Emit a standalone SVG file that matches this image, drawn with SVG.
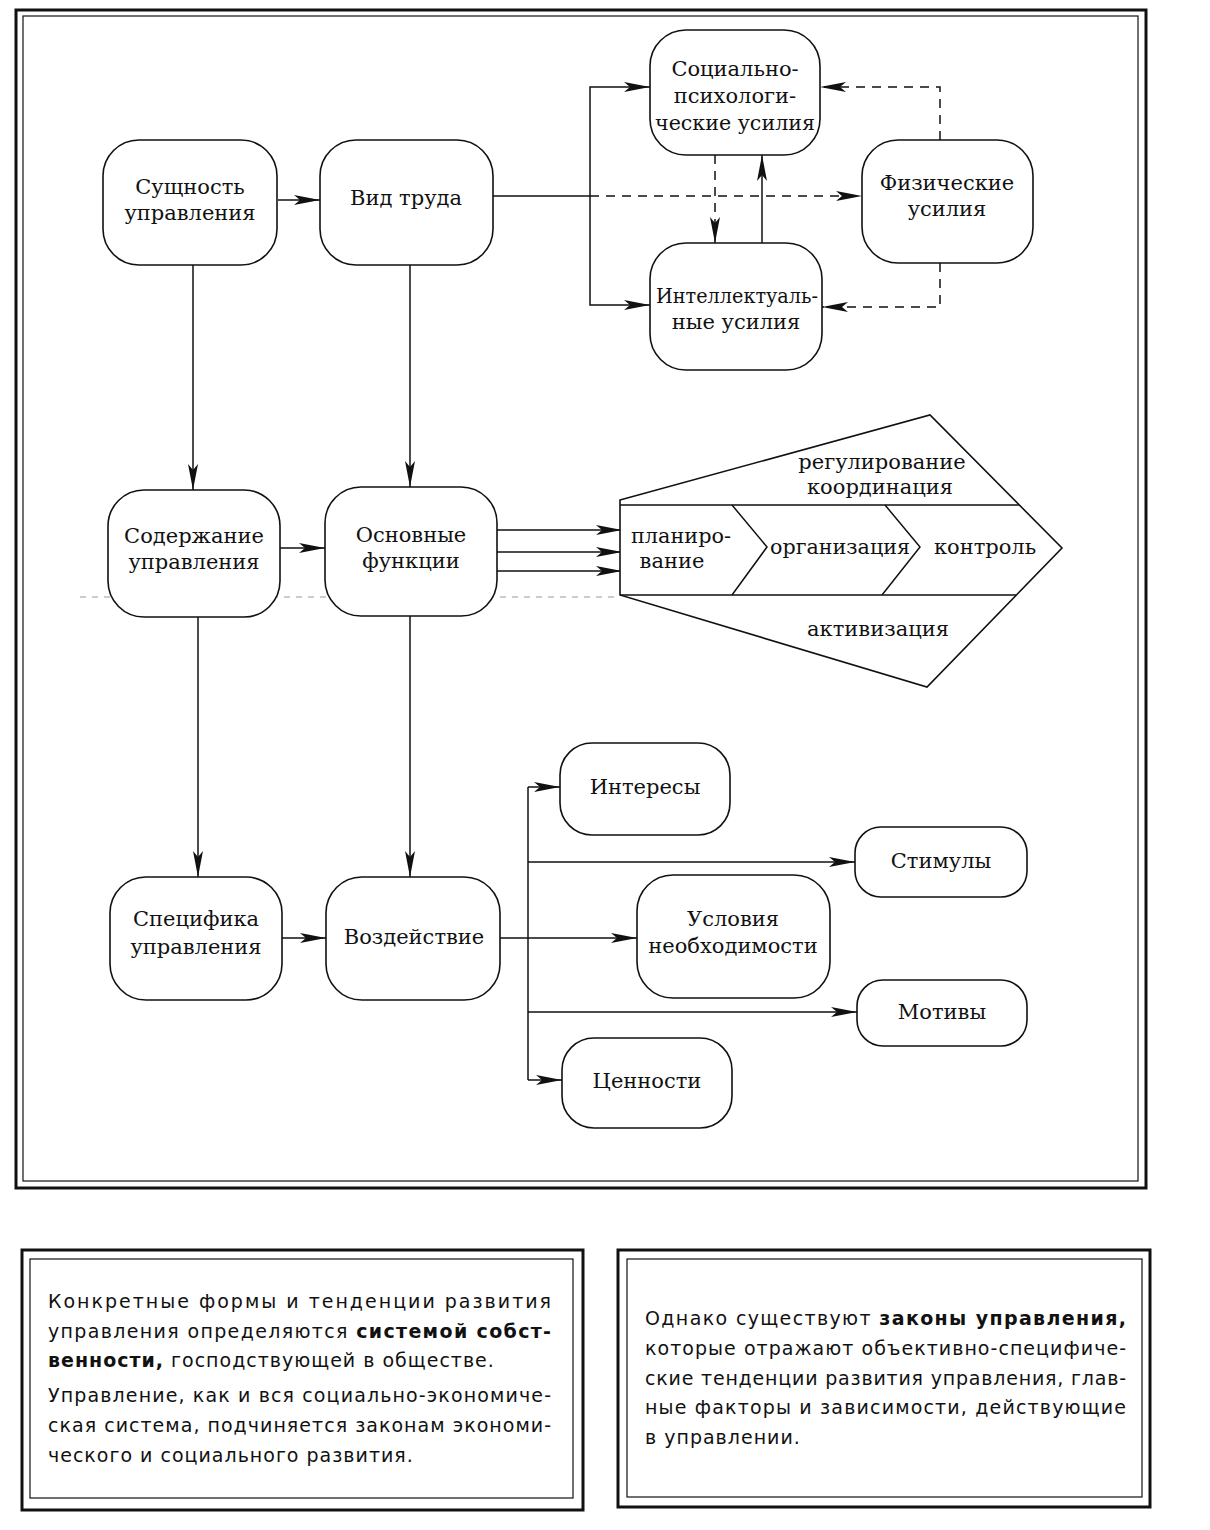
<svg xmlns="http://www.w3.org/2000/svg" width="1210" height="1530" viewBox="0 0 1210 1530">
<defs>
<marker id="ah" viewBox="0 0 26 10" refX="26" refY="5" markerWidth="26" markerHeight="10" markerUnits="userSpaceOnUse" orient="auto">
<path d="M0,0 L26,5 L0,10 L6,5 z" fill="#111"/>
</marker>
</defs>
<style>
.node{fill:#fff;stroke:#111;stroke-width:1.6}
.t{font-family:"DejaVu Serif","Liberation Serif",serif;font-size:21px;fill:#111;text-anchor:middle}
.c{fill:none;stroke:#111;stroke-width:1.5}
.a{marker-end:url(#ah)}
.d{stroke-dasharray:9 7}
.p{font-family:"DejaVu Sans","Liberation Sans",sans-serif;font-size:19px;letter-spacing:1px;fill:#111}
.b{font-weight:bold}
.frame{fill:none;stroke:#111}
</style>
<rect width="1210" height="1530" fill="#fff"/>

<g id="main-frame">
<rect class="frame" x="16" y="10" width="1130" height="1178" stroke-width="3"/>
<rect class="frame" x="23" y="16" width="1115" height="1165" stroke-width="1.2"/>
</g>

<g id="connectors">
<path class="c a" d="M278,200 H320"/>
<path class="c" d="M493,196 H590"/>
<path class="c d a" d="M590,196 H862"/>
<path class="c a" d="M590,196 V87 H650"/>
<path class="c a" d="M590,196 V305 H650"/>
<path class="c d a" d="M940,140 V87 H820"/>
<path class="c d a" d="M940,263 V307 H822"/>
<path class="c d a" d="M715,155 V243"/>
<path class="c a" d="M762,243 V155"/>
<path class="c a" d="M193,265 V490"/>
<path class="c a" d="M410,265 V487"/>
<path class="c a" d="M280,548 H325"/>
<path class="c a" d="M497,530 H622"/>
<path class="c a" d="M497,552 H622"/>
<path class="c a" d="M497,571 H622"/>
<path class="c a" d="M198,617 V877"/>
<path class="c a" d="M410,616 V877"/>
<path class="c a" d="M282,938 H326"/>
<path class="c a" d="M500,938 H637"/>
<path class="c" d="M528,787 V1080"/>
<path class="c a" d="M528,787 H560"/>
<path class="c a" d="M528,862 H855"/>
<path class="c a" d="M528,1012 H857"/>
<path class="c a" d="M528,1080 H562"/>
<path d="M80,597 H620" fill="none" stroke="#999" stroke-width="1" stroke-dasharray="6 6"/>
</g>

<g id="n-sushnost"><rect class="node" x="103" y="140" width="174" height="125" rx="36"/>
<text class="t" x="190" y="194">Сущность</text><text class="t" x="190" y="220">управления</text></g>

<g id="n-vid"><rect class="node" x="320" y="140" width="173" height="125" rx="36"/>
<text class="t" x="406" y="205">Вид труда</text></g>

<g id="n-soc"><rect class="node" x="650" y="30" width="170" height="125" rx="36"/>
<text class="t" x="735" y="76">Социально-</text><text class="t" x="735" y="103">психологи-</text><text class="t" x="735" y="130" textLength="160" lengthAdjust="spacingAndGlyphs">ческие усилия</text></g>

<g id="n-fiz"><rect class="node" x="862" y="140" width="171" height="123" rx="36"/>
<text class="t" x="947" y="190">Физические</text><text class="t" x="947" y="216">усилия</text></g>

<g id="n-int"><rect class="node" x="650" y="243" width="172" height="127" rx="36"/>
<text class="t" x="737" y="303" textLength="162" lengthAdjust="spacingAndGlyphs">Интеллектуаль-</text><text class="t" x="736" y="329">ные усилия</text></g>

<g id="n-sod"><rect class="node" x="108" y="490" width="172" height="127" rx="36"/>
<text class="t" x="194" y="543">Содержание</text><text class="t" x="194" y="569">управления</text></g>

<g id="n-osn"><rect class="node" x="325" y="487" width="172" height="129" rx="36"/>
<text class="t" x="411" y="542">Основные</text><text class="t" x="411" y="568">функции</text></g>

<g id="n-functions">
<path class="node" d="M620,500 L930,415 L1062,548 L927,687 L620,595 Z"/>
<path class="c" d="M620,505 H1019 M620,595 H1016"/>
<path class="c" d="M732,505 L767,547 L732,595"/>
<path class="c" d="M885,505 L920,547 L882,595"/>
<text class="t" x="882" y="469">регулирование</text>
<text class="t" x="880" y="494">координация</text>
<text class="t" x="681" y="543" textLength="100" lengthAdjust="spacingAndGlyphs">планиро-</text>
<text class="t" x="672" y="568">вание</text>
<text class="t" x="840" y="554" textLength="140" lengthAdjust="spacingAndGlyphs">организация</text>
<text class="t" x="985" y="554">контроль</text>
<text class="t" x="878" y="636">активизация</text>
</g>

<g id="n-spec"><rect class="node" x="110" y="877" width="172" height="123" rx="36"/>
<text class="t" x="196" y="926">Специфика</text><text class="t" x="196" y="954">управления</text></g>

<g id="n-vozd"><rect class="node" x="326" y="877" width="174" height="123" rx="36"/>
<text class="t" x="414" y="944">Воздействие</text></g>

<g id="n-inter"><rect class="node" x="560" y="743" width="170" height="92" rx="32"/>
<text class="t" x="645" y="794">Интересы</text></g>

<g id="n-stim"><rect class="node" x="855" y="827" width="172" height="70" rx="26"/>
<text class="t" x="941" y="868">Стимулы</text></g>

<g id="n-usl"><rect class="node" x="637" y="875" width="193" height="123" rx="36"/>
<text class="t" x="733" y="926">Условия</text><text class="t" x="733" y="953">необходимости</text></g>

<g id="n-motiv"><rect class="node" x="857" y="980" width="170" height="66" rx="26"/>
<text class="t" x="942" y="1019">Мотивы</text></g>

<g id="n-cen"><rect class="node" x="562" y="1038" width="170" height="90" rx="32"/>
<text class="t" x="647" y="1088">Ценности</text></g>

<g id="box-left">
<rect class="frame" x="22" y="1250" width="561" height="260" stroke-width="3"/>
<rect class="frame" x="30" y="1259" width="543" height="239" stroke-width="1.2"/>
<text class="p" x="48" y="1308" textLength="504" lengthAdjust="spacing">Конкретные формы и тенденции развития</text>
<text class="p" x="48" y="1338" textLength="504" lengthAdjust="spacing">управления определяются <tspan class="b">системой собст-</tspan></text>
<text class="p" x="48" y="1367"><tspan class="b">венности,</tspan> господствующей в обществе.</text>
<text class="p" x="48" y="1402" textLength="504" lengthAdjust="spacing">Управление, как и вся социально-экономиче-</text>
<text class="p" x="48" y="1432" textLength="504" lengthAdjust="spacing">ская система, подчиняется законам экономи-</text>
<text class="p" x="48" y="1462">ческого и социального развития.</text>
</g>

<g id="box-right">
<rect class="frame" x="618" y="1250" width="532" height="257" stroke-width="3"/>
<rect class="frame" x="627" y="1259" width="515" height="238" stroke-width="1.2"/>
<text class="p" x="645" y="1325" textLength="482" lengthAdjust="spacing">Однако существуют <tspan class="b">законы управления,</tspan></text>
<text class="p" x="645" y="1355" textLength="482" lengthAdjust="spacing">которые отражают объективно-специфиче-</text>
<text class="p" x="645" y="1385" textLength="482" lengthAdjust="spacing">ские тенденции развития управления, глав-</text>
<text class="p" x="645" y="1414" textLength="482" lengthAdjust="spacing">ные факторы и зависимости, действующие</text>
<text class="p" x="645" y="1444">в управлении.</text>
</g>
</svg>
